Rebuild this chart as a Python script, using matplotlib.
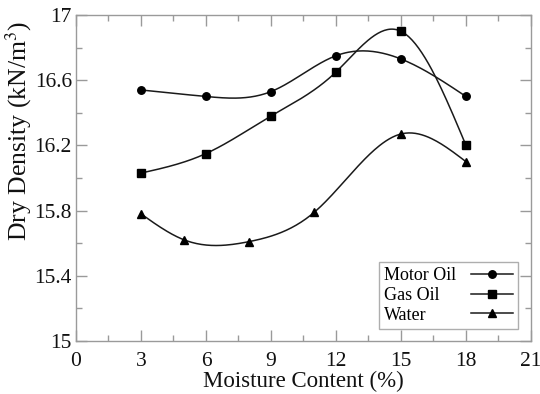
import numpy as np
import matplotlib.pyplot as plt
from matplotlib.ticker import MultipleLocator, FixedLocator, FormatStrFormatter

plt.rcParams['font.family'] = ['Liberation Serif', 'DejaVu Serif']
plt.rcParams['mathtext.fontset'] = 'stix'

# Dry density (kN/m3) against moisture content (%)
motor_x = [3, 6, 9, 12, 15, 18]
motor_y = [16.54, 16.50, 16.53, 16.75, 16.73, 16.50]

gas_x = [3, 6, 9, 12, 15, 18]
gas_y = [16.03, 16.15, 16.38, 16.65, 16.90, 16.20]

water_x = [3, 5, 8, 11, 15, 18]
water_y = [15.78, 15.62, 15.61, 15.79, 16.27, 16.10]

y_ticks = [15, 15.4, 15.8, 16.2, 16.6, 17]


def natural_spline(x, y, n=200):
    """Natural cubic spline through (x, y), sampled at n points."""
    x = np.asarray(x, float)
    y = np.asarray(y, float)
    m = len(x)
    h = np.diff(x)
    A = np.zeros((m, m))
    b = np.zeros(m)
    A[0, 0] = A[-1, -1] = 1.0
    for i in range(1, m - 1):
        A[i, i - 1] = h[i - 1]
        A[i, i] = 2 * (h[i - 1] + h[i])
        A[i, i + 1] = h[i]
        b[i] = 6 * ((y[i + 1] - y[i]) / h[i] - (y[i] - y[i - 1]) / h[i - 1])
    M = np.linalg.solve(A, b)
    xs = np.linspace(x[0], x[-1], n)
    k = np.clip(np.searchsorted(x, xs) - 1, 0, m - 2)
    t0 = x[k + 1] - xs
    t1 = xs - x[k]
    hk = h[k]
    ys = (M[k] * t0 ** 3 / (6 * hk) + M[k + 1] * t1 ** 3 / (6 * hk)
          + (y[k] / hk - M[k] * hk / 6) * t0
          + (y[k + 1] / hk - M[k + 1] * hk / 6) * t1)
    return xs, ys


fig = plt.figure(figsize=(5.4, 3.94), dpi=100)
ax = fig.add_axes([0.1407, 0.1345, 0.8426, 0.8275])

line_col = '#1a1a1a'
series = [
    (motor_x, motor_y, 'o', 'Motor Oil'),
    (gas_x, gas_y, 's', 'Gas Oil'),
    (water_x, water_y, '^', 'Water'),
]
for xs, ys, mk, name in series:
    sx, sy = natural_spline(xs, ys)
    ax.plot(sx, sy, color=line_col, lw=1.1, zorder=2)
    ax.plot(xs, ys, ls='none', marker=mk, ms=5.4, color='black', zorder=3)
    # legend handle: line with marker
    ax.plot([], [], color=line_col, lw=1.1, marker=mk, ms=5.4,
            mfc='black', mec='black', label=name)

ax.set_xlim(0, 21)
ax.set_ylim(15, 17)
ax.xaxis.set_major_locator(MultipleLocator(3))
ax.xaxis.set_minor_locator(MultipleLocator(1.5))
ax.yaxis.set_major_locator(FixedLocator(y_ticks))
ax.yaxis.set_minor_locator(MultipleLocator(0.2))
ax.yaxis.set_major_formatter(FormatStrFormatter('%g'))

spine_col = '#9a9a9a'
for s in ax.spines.values():
    s.set_color(spine_col)
    s.set_linewidth(1.0)
ax.tick_params(which='both', direction='in', top=True, right=True,
               color=spine_col, width=1.0, labelsize=15.5, labelcolor='#111111')
ax.tick_params(which='major', length=8)
ax.tick_params(axis='x', which='major', pad=8)
ax.tick_params(axis='y', which='major', pad=3)
ax.tick_params(which='minor', length=4)

ax.set_xlabel('Moisture Content (%)', fontsize=16.5, labelpad=0, color='#111111')
ax.set_ylabel('Dry Density (kN/m$^3$)', fontsize=18.5, color='#111111')
ax.yaxis.set_label_coords(-0.092, 0.644)

leg = ax.legend(loc='lower right', markerfirst=False, fontsize=13,
                frameon=True, fancybox=False, handlelength=2.3,
                borderpad=0.3, labelspacing=0.15, handletextpad=0.8,
                bbox_to_anchor=(0.9714, 0.0368), borderaxespad=0)
leg.get_frame().set_edgecolor(spine_col)
leg.get_frame().set_linewidth(1.0)

# left-align the labels while keeping the handles in a right-hand column
renderer = fig.canvas.get_renderer()
column = leg._legend_handle_box.get_children()[0]
items = column.get_children()
widths = [leg_t.get_window_extent(renderer).width for leg_t in leg.get_texts()]
wmax = max(widths)
px_to_pt = 72.0 / fig.dpi
for item, w in zip(items, widths):
    item.sep = item.sep + (wmax - w) * px_to_pt
column.align = 'left'

fig.savefig('out.png', dpi=100)
